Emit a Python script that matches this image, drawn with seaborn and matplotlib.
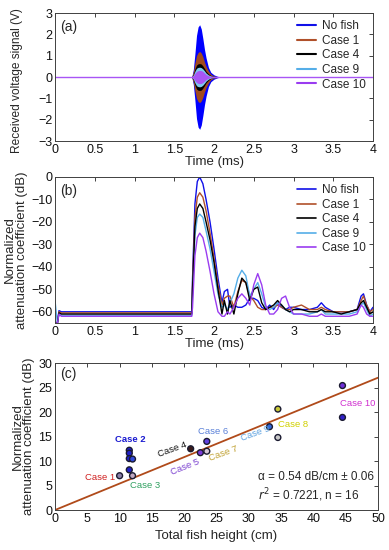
import numpy as np
import pandas as pd
import matplotlib
matplotlib.use("Agg")
import matplotlib.pyplot as plt
import seaborn as sns
from matplotlib.lines import Line2D

sns.set_theme(style="white")
plt.rcParams['font.family'] = ['Liberation Sans', 'DejaVu Sans']

# ---------------- data ----------------
series_names = ["No fish", "Case 1", "Case 4", "Case 9", "Case 10"]
series_colors = ["#1010e8", "#b0502a", "#000000", "#55aee8", "#9a3cf0"]
fill_colors = ["#0000ff", "#a04a1e", "#000000", "#7ec8f0", "#a855f5"]

# (a) envelope of received voltage burst (V)
t_env = [1.72, 1.74, 1.76, 1.78, 1.80, 1.82, 1.84, 1.86, 1.88, 1.90, 1.93, 1.96, 2.00, 2.04, 2.08]
env_nofish = [0, 0.35, 1.1, 1.95, 2.35, 2.45, 2.25, 1.8, 1.3, 0.9, 0.45, 0.22, 0.1, 0.04, 0]
env_case1 = [0, 0.25, 0.65, 1.0, 1.15, 1.2, 1.12, 0.95, 0.7, 0.5, 0.28, 0.13, 0.05, 0.02, 0]
env_case4 = [0, 0.12, 0.38, 0.56, 0.62, 0.63, 0.61, 0.52, 0.4, 0.27, 0.15, 0.07, 0.03, 0.01, 0]
env_case9 = [0, 0.09, 0.27, 0.41, 0.45, 0.46, 0.44, 0.38, 0.29, 0.19, 0.1, 0.05, 0.02, 0.01, 0]
env_case10 = [0, 0.06, 0.17, 0.26, 0.3, 0.31, 0.3, 0.26, 0.19, 0.12, 0.06, 0.03, 0.01, 0, 0]
t_base = [0.0, 4.0]
v_base = [0.0, 0.0]

# (b) normalized attenuation coefficient (dB)
t_b = [0, 0.03, 0.05, 0.08, 0.15, 0.5, 1.0, 1.5, 1.72, 1.73, 1.76, 1.79, 1.82, 1.86, 1.9, 1.95,
       2.0, 2.05, 2.1, 2.13, 2.17, 2.2, 2.25, 2.3, 2.35, 2.4, 2.45, 2.5, 2.55, 2.6, 2.65, 2.7,
       2.75, 2.8, 2.85, 2.9, 2.95, 3.0, 3.1, 3.2, 3.3, 3.35, 3.4, 3.5, 3.6, 3.7, 3.8, 3.85,
       3.88, 3.92, 3.96, 4.0]
db_nofish = [-65, -65, -59.5, -60, -60, -60, -60, -60, -60, -45, -12, -2, 0, -3, -10, -20,
             -32, -45, -56, -51, -50, -58, -57, -58, -58, -57, -54, -54, -55, -58, -59, -57,
             -59, -56, -58, -59, -58, -58, -59, -59, -58, -56, -58, -60, -60, -60, -59, -53,
             -52, -57, -60, -58]
db_case1 = [-65, -65, -60, -60.5, -60.5, -60.5, -60.5, -60.5, -60.5, -48, -18, -9, -7, -9, -15, -25,
            -36, -48, -57, -54, -53, -53, -58, -51, -46, -47, -53, -55, -58, -59, -59, -58,
            -58, -57, -58, -59, -59, -58, -57, -59, -59, -58, -59, -60, -60, -60, -59, -55,
            -53, -57, -60, -59]
db_case4 = [-65, -65, -60.5, -61, -61, -61, -61, -61, -61, -50, -22, -14, -12, -14, -20, -28,
            -38, -50, -61, -55, -61, -55, -61, -52, -45, -47, -55, -50, -49, -56, -59, -58,
            -57, -55, -57, -59, -60, -59, -59, -60, -60, -59, -60, -60, -61, -60, -59, -56,
            -55, -58, -61, -60]
db_case9 = [-55, -65, -61, -61.5, -61.5, -61.5, -61.5, -61.5, -61.5, -52, -26, -18, -16.5, -18, -24, -32,
            -42, -52, -58, -57, -59, -56, -52, -45, -41.5, -44, -53, -50, -47, -52, -58, -59,
            -58, -56, -57, -59, -60, -61, -61, -61, -60, -59, -61, -61, -61, -61, -60, -57,
            -56, -59, -62, -61]
db_case10 = [-65, -65, -61, -62, -62, -62, -62, -62, -62, -58, -35, -27, -25, -27, -33, -42,
             -52, -60, -62, -62, -60, -61, -58, -54, -52, -54, -57, -48, -43, -48, -57, -61,
             -61, -59, -54, -53, -58, -61, -61, -62, -62, -61, -62, -62, -62, -62, -61, -57,
             -58, -61, -62, -62]

# (c) scatter
fish_height = [10, 11.5, 11.5, 11.5, 11.5, 12, 12, 21, 22.5, 23.5, 23.5, 33.2, 34.5, 34.5, 44.5, 44.5]
atten = [7, 12.2, 11.6, 10.5, 8.2, 10.4, 7, 12.5, 11.7, 14, 12, 17, 20.6, 14.8, 25.4, 18.9]
point_fill = ["#8a80a8", "#2020c8", "#2020c8", "#2020c8", "#2020c8", "#3048d8", "#c0a8c0",
              "#3a1a1a", "#7a3ad8", "#6040e0", "#d8c8d8", "#3068d8", "#c8c838", "#c8c8c8",
              "#7030d8", "#3020c8"]
fit_x = [0, 50]
fit_y = [0, 27]
case_labels = ["Case 1", "Case 2", "Case 3", "Case 4", "Case 5", "Case 6", "Case 7",
               "Case 8", "Case 9", "Case 10"]
label_x = [7.0, 11.6, 13.9, 18.1, 20.1, 24.5, 26.0, 36.9, 31.0, 46.8]
label_y = [6.7, 14.3, 5.1, 12.3, 8.8, 16.0, 11.6, 17.5, 15.7, 21.8]
label_rot = [0, 0, 0, 20, 22, 0, 20, 0, 20, 0]
label_col = ["#d02020", "#1a1ad0", "#30a060", "#101010", "#7a40d0", "#5a80d8", "#c0a030",
             "#d0d000", "#5aa0e0", "#d030d0"]
label_bold = [False, True, False, False, False, False, False, False, False, False]

# ---------------- figure ----------------
fig = plt.figure(figsize=(3.89, 5.5), dpi=100)
axA = fig.add_axes([0.1414, 0.7436, 0.8175, 0.2327])
axB = fig.add_axes([0.1414, 0.4127, 0.8175, 0.2655])
axC = fig.add_axes([0.1414, 0.0727, 0.8303, 0.2673])

fs_tick = 9
fs_lab = 9.5


def style(ax):
    for s in ax.spines.values():
        s.set_color("#404040")
        s.set_linewidth(0.7)
    ax.tick_params(direction="in", length=3, width=0.6, top=True, right=True,
                   labelsize=fs_tick, pad=2, colors="#222222")
    ax.tick_params(axis="both", labelcolor="#111111")


# (a)
envs = [env_nofish, env_case1, env_case4, env_case9, env_case10]
for env, c in zip(envs, fill_colors):
    e = np.array(env)
    axA.fill_between(t_env, -e, e, color=c, lw=0)
sns.lineplot(x=t_base, y=v_base, ax=axA, color="#a855f5", lw=1.0)
axA.set_xlim(0, 4)
axA.set_ylim(-3, 3)
axA.set_xticks(np.arange(0, 4.01, 0.5))
axA.set_xticklabels(["0", "0.5", "1", "1.5", "2", "2.5", "3", "3.5", "4"])
axA.set_yticks(range(-3, 4))
axA.set_yticklabels(["\u22123", "\u22122", "\u22121", "0", "1", "2", "3"])
axA.set_xlabel("Time (ms)", fontsize=fs_lab, labelpad=0)
axA.set_ylabel("Received voltage signal (V)", fontsize=8.6, labelpad=2)
axA.yaxis.set_label_coords(-0.1, 0.47)
axA.text(0.06, 2.15, "(a)", fontsize=10)
handles = [Line2D([0], [0], color=c, lw=1.5) for c in series_colors]
axA.legend(handles, series_names, loc="upper right", frameon=False, fontsize=8.5,
           handlelength=1.6, handletextpad=0.5, labelspacing=0.22, borderaxespad=0.2)
style(axA)

# (b)
dbs = [db_nofish, db_case1, db_case4, db_case9, db_case10]
order = [0, 1, 3, 2, 4]
for i in order:
    sns.lineplot(x=t_b, y=dbs[i], ax=axB, color=series_colors[i], lw=1.0, label=None)
axB.set_xlim(0, 4)
axB.set_ylim(-65, 0)
axB.set_xticks(np.arange(0, 4.01, 0.5))
axB.set_xticklabels(["0", "0.5", "1", "1.5", "2", "2.5", "3", "3.5", "4"])
axB.set_yticks(range(-60, 1, 10))
axB.set_yticklabels(["\u221260", "\u221250", "\u221240", "\u221230", "\u221220", "\u221210", "0"])
axB.set_xlabel("Time (ms)", fontsize=fs_lab, labelpad=0)
axB.set_ylabel("Normalized\nattenuation coefficient (dB)", fontsize=fs_lab, labelpad=2,
               linespacing=1.0)
axB.text(0.06, -8, "(b)", fontsize=10)
handles = [Line2D([0], [0], color=c, lw=1.2) for c in series_colors]
axB.legend(handles, series_names, loc="upper right", frameon=False, fontsize=8.5,
           handlelength=1.6, handletextpad=0.5, labelspacing=0.22, borderaxespad=0.2)
style(axB)

# (c)
sns.lineplot(x=fit_x, y=fit_y, ax=axC, color="#b04a1a", lw=1.3)
df = pd.DataFrame({"h": fish_height, "a": atten, "c": point_fill})
sns.scatterplot(data=df, x="h", y="a", ax=axC, c=df["c"].tolist(), s=18,
                edgecolor="#1a1a30", linewidth=1.0, zorder=3)
for lab, x, y, r, c, b in zip(case_labels, label_x, label_y, label_rot, label_col, label_bold):
    axC.text(x, y, lab, color=c, fontsize=6.8, rotation=r, ha="center", va="center",
             fontweight="bold" if b else "normal", zorder=4)
axC.text(31.4, 6.8, "\u03b1 = 0.54 dB/cm \u00b1 0.06", fontsize=8.5, va="center")
axC.text(31.4, 3.1, r"$r^2$ = 0.7221, n = 16", fontsize=8.5, va="center")
axC.set_xlim(0, 50)
axC.set_ylim(0, 30)
axC.set_xticks(range(0, 51, 5))
axC.set_yticks(range(0, 31, 5))
axC.set_xlabel("Total fish height (cm)", fontsize=fs_lab, labelpad=4)
axC.set_ylabel("Normalized\nattenuation coefficient (dB)", fontsize=fs_lab, labelpad=2,
               linespacing=1.0)
axC.text(0.8, 27.0, "(c)", fontsize=10)
style(axC)

fig.savefig("out.png", dpi=100)
